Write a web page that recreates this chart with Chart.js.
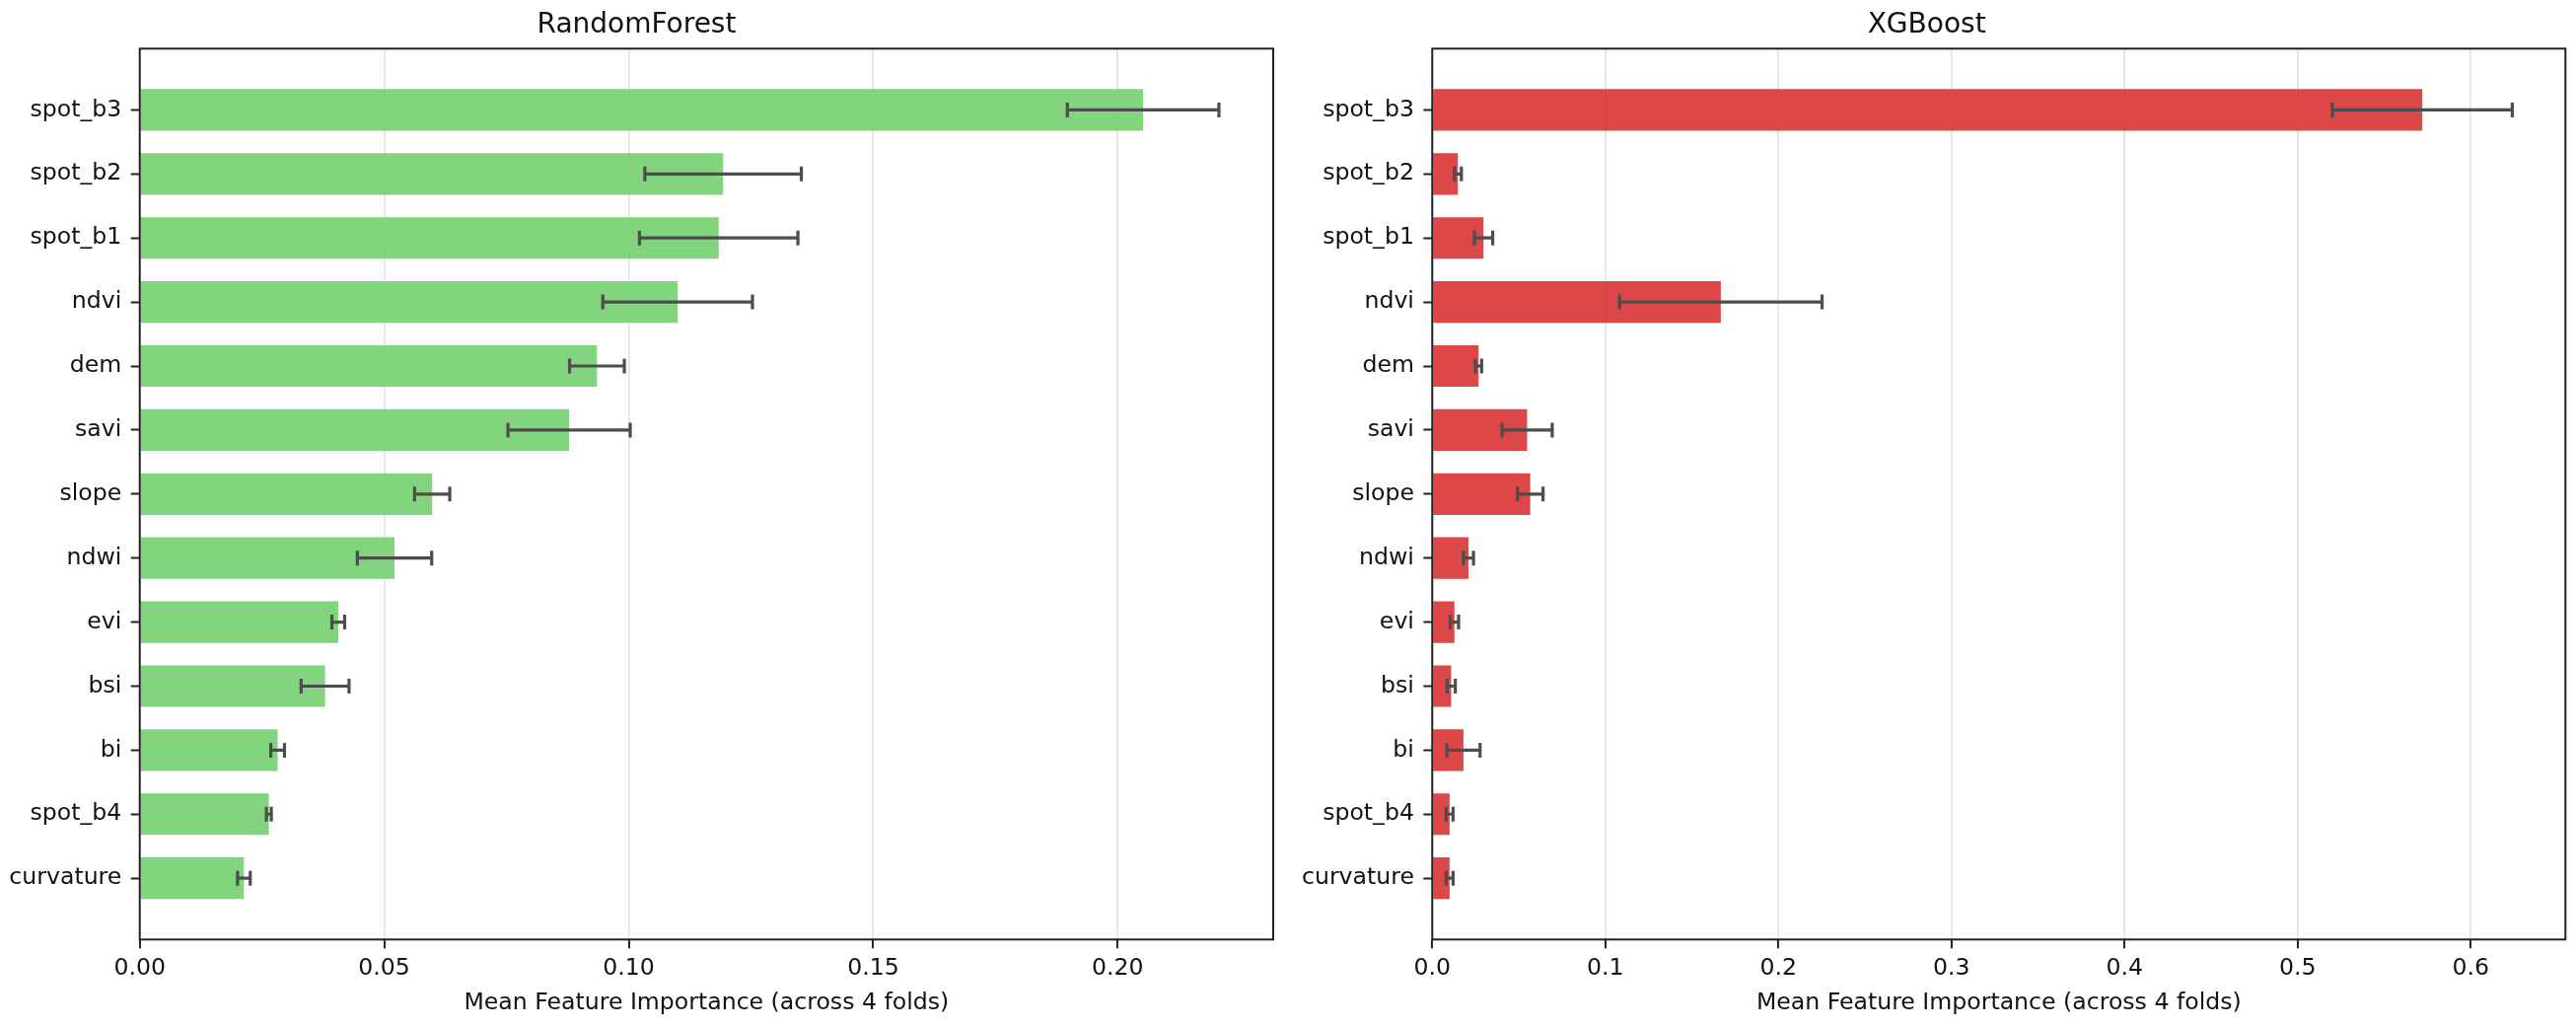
<!DOCTYPE html>
<html>
<head>
<meta charset="utf-8">
<script src="https://cdn.jsdelivr.net/npm/chart.js@4.4.1/dist/chart.umd.min.js"></script>
<style>
  html, body { margin: 0; padding: 0; background: #fff; }
  #wrap { position: relative; width: 2612px; height: 1041px; }
  canvas { position: absolute; top: 0; }
  #rf { left: 0; }
  #xgb { left: 1306px; }
</style>
</head>
<body>
<div id="wrap">
  <canvas id="rf" width="1306" height="1041"></canvas>
  <canvas id="xgb" width="1306" height="1041"></canvas>
</div>
<script>
// features, top to bottom
const features = ['spot_b3', 'spot_b2', 'spot_b1', 'ndvi', 'dem', 'savi', 'slope',
                  'ndwi', 'evi', 'bsi', 'bi', 'spot_b4', 'curvature'];

// mean importance and std across folds
const rfMean = [0.2052, 0.1193, 0.1184, 0.1100, 0.0935, 0.0878, 0.0598,
                0.0521, 0.0406, 0.0379, 0.0282, 0.0264, 0.0213];
const rfStd  = [0.0155, 0.0160, 0.0162, 0.0153, 0.0056, 0.0125, 0.0036,
                0.0076, 0.0013, 0.0049, 0.0014, 0.0005, 0.0013];

const xgbMean = [0.5720, 0.0148, 0.0296, 0.1667, 0.0267, 0.0548, 0.0566,
                 0.0209, 0.0128, 0.0109, 0.0180, 0.0100, 0.0100];
const xgbStd  = [0.0520, 0.0020, 0.0053, 0.0585, 0.0018, 0.0145, 0.0074,
                 0.0029, 0.0024, 0.0024, 0.0096, 0.0020, 0.0020];

const rfTicks = [0, 0.05, 0.10, 0.15, 0.20];
const xgbTicks = [0, 0.1, 0.2, 0.3, 0.4, 0.5, 0.6];

const FONT = 'DejaVu Sans';
const TEXT = '#111';
const AXIS = '#222';

// error bars with caps
const errorBars = {
  id: 'errorBars',
  afterDatasetsDraw(chart, args, opts) {
    const ctx = chart.ctx;
    const xs = chart.scales.x, ys = chart.scales.y;
    ctx.save();
    ctx.strokeStyle = opts.color;
    ctx.lineWidth = opts.width;
    opts.means.forEach((m, i) => {
      const y = ys.getPixelForValue(i);
      const x1 = xs.getPixelForValue(m - opts.stds[i]);
      const x2 = xs.getPixelForValue(m + opts.stds[i]);
      ctx.beginPath();
      ctx.moveTo(x1, y); ctx.lineTo(x2, y);
      ctx.moveTo(x1, y - opts.cap); ctx.lineTo(x1, y + opts.cap);
      ctx.moveTo(x2, y - opts.cap); ctx.lineTo(x2, y + opts.cap);
      ctx.stroke();
    });
    ctx.restore();
  }
};

// box around the plot area like matplotlib spines
const frame = {
  id: 'frame',
  afterDraw(chart) {
    const {ctx, chartArea: a} = chart;
    ctx.save();
    ctx.strokeStyle = AXIS;
    ctx.lineWidth = 2;
    ctx.strokeRect(a.left, a.top, a.right - a.left, a.bottom - a.top);
    ctx.restore();
  }
};

function makeChart(id, title, means, stds, color, xMax, xTicks, decimals, yWidth, padRight) {
  return new Chart(document.getElementById(id), {
    type: 'bar',
    data: {
      datasets: [{
        data: means.map((m, i) => ({x: m, y: i})),
        backgroundColor: color,
        borderWidth: 0,
        categoryPercentage: 1,
        barPercentage: 0.65
      }]
    },
    options: {
      indexAxis: 'y',
      responsive: false,
      animation: false,
      devicePixelRatio: 1,
      layout: { padding: { left: 0, right: padRight, top: 0, bottom: 0 } },
      plugins: {
        legend: { display: false },
        tooltip: { enabled: false },
        title: {
          display: true,
          text: title,
          color: TEXT,
          font: { family: FONT, size: 28, weight: 'normal' },
          padding: { top: 8.5, bottom: 7.2 }
        },
        errorBars: { means: means, stds: stds, color: '#4d4d4d', width: 3.2, cap: 7.5 }
      },
      scales: {
        x: {
          type: 'linear',
          min: 0,
          max: xMax,
          afterBuildTicks: s => { s.ticks = xTicks.map(v => ({value: v})); },
          afterFit: s => { s.height = 88.7; },
          ticks: {
            callback: v => Number(v).toFixed(decimals),
            color: TEXT,
            font: { family: FONT, size: 23.6 },
            padding: 6.5,
            maxRotation: 0
          },
          grid: {
            color: 'rgba(176,176,176,0.3)',
            lineWidth: 1.9,
            drawTicks: true,
            tickLength: 9,
            tickColor: AXIS,
            tickWidth: 2
          },
          border: { display: false },
          title: {
            display: true,
            text: 'Mean Feature Importance (across 4 folds)',
            color: TEXT,
            font: { family: FONT, size: 23.6 },
            padding: { top: 0, bottom: 9.8 }
          }
        },
        y: {
          type: 'linear',
          reverse: true,
          offset: false,
          min: -0.9575,
          max: features.length - 1 + 0.9575,
          afterBuildTicks: s => { s.ticks = features.map((f, i) => ({value: i})); },
          afterFit: s => { s.width = yWidth; },
          ticks: {
            callback: v => features[v],
            color: TEXT,
            font: { family: FONT, size: 23.6 },
            padding: 9.4,
            autoSkip: false
          },
          grid: {
            offset: false,
            drawOnChartArea: false,
            drawTicks: true,
            tickLength: 9,
            tickColor: AXIS,
            tickWidth: 2
          },
          border: { display: false }
        }
      }
    },
    plugins: [errorBars, frame]
  });
}

makeChart('rf', 'RandomForest', rfMean, rfStd, 'rgba(108,204,105,0.85)',
          0.2318, rfTicks, 2, 141.7, 15);
makeChart('xgb', 'XGBoost', xgbMean, xgbStd, 'rgba(214,39,40,0.85)',
          0.6547, xgbTicks, 1, 146.3, 10.7);
</script>
</body>
</html>
